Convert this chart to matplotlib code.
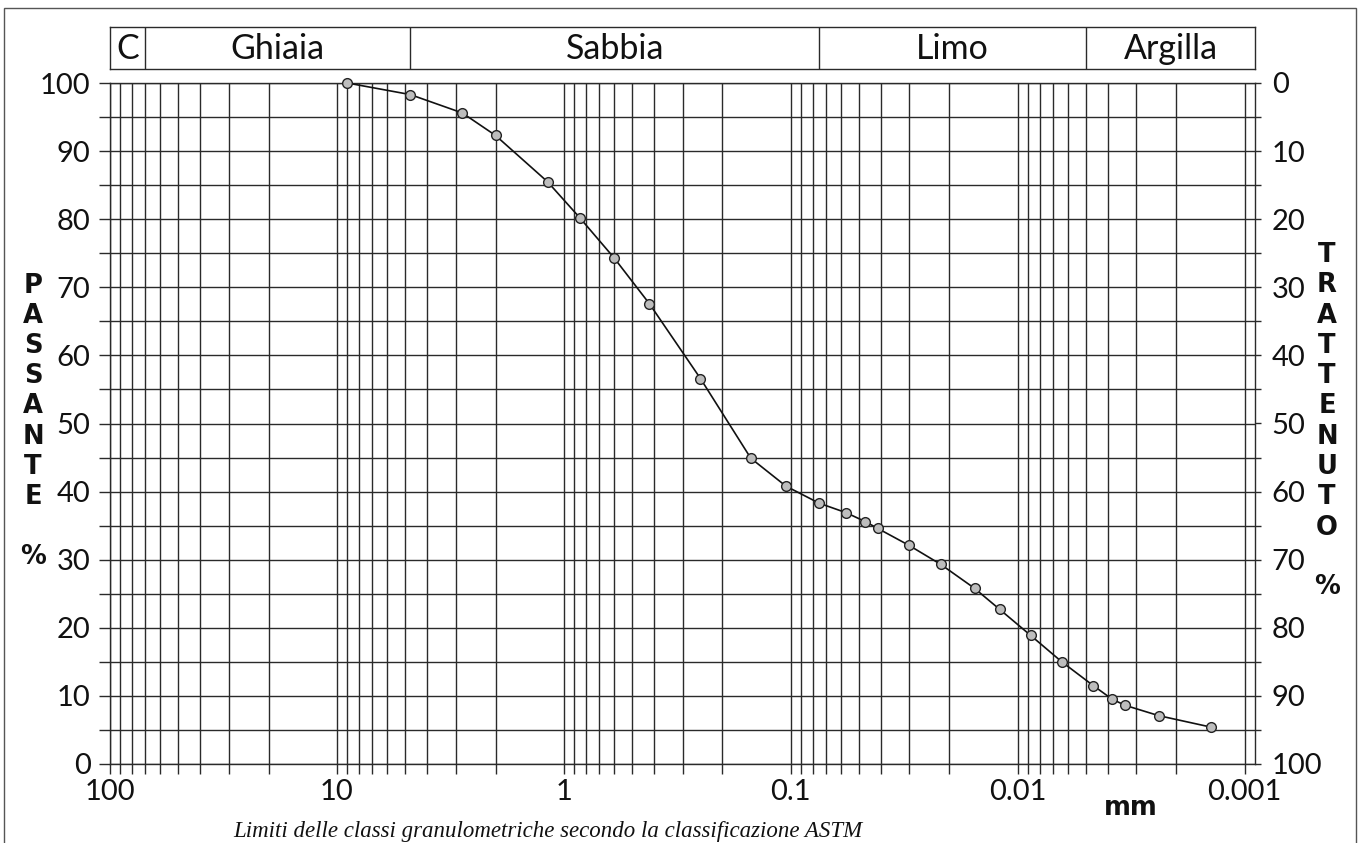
import numpy as np
import matplotlib
matplotlib.use('Agg')
import matplotlib.pyplot as plt
from matplotlib.patches import Rectangle

# ---- data ----
diam_mm = [9.0, 4.75, 2.8, 2.0, 1.18, 0.85, 0.6, 0.42, 0.25, 0.15, 0.105, 0.075,
           0.057, 0.047, 0.0414, 0.0301, 0.0218, 0.0155, 0.0120, 0.00878, 0.00639,
           0.00464, 0.00383, 0.00335, 0.00239, 0.00140]
passing = [100, 98.3, 95.6, 92.3, 85.5, 80.2, 74.3, 67.6, 56.6, 44.9, 40.8, 38.3,
           36.9, 35.6, 34.6, 32.1, 29.3, 25.8, 22.7, 18.9, 15.0,
           11.5, 9.5, 8.6, 7.1, 5.4]
class_names = ['C', 'Ghiaia', 'Sabbia', 'Limo', 'Argilla']
class_limits = [100, 70, 4.75, 0.075, 0.005, 0.0009]
x_tick_values = [100, 10, 1, 0.1, 0.01, 0.001]
x_tick_labels = ['100', '10', '1', '0.1', '0.01', '0.001']
y_left_ticks = list(range(0, 101, 10))
y_right_labels = [str(100 - v) for v in y_left_ticks]
left_title = 'PASSANTE'
right_title = 'TRATTENUTO'
unit_label = 'mm'
caption = 'Limiti delle classi granulometriche secondo la classificazione ASTM'

W, H = 1360, 843
plt.rcParams['font.family'] = ['Lato', 'DejaVu Sans']
LW = 1.0
GC = '#2a2a2a'
TICK_FS = 21
BOLD = dict(family=['DejaVu Sans'], fontweight='bold', fontsize=18.5, color='#111111')

fig = plt.figure(figsize=(W / 100, H / 100), dpi=100)

def fx(px):
    return px / W

def fy(py):
    return (H - py) / H

# outer frame
fig.patches.append(Rectangle((fx(4), -0.02), fx(1356) - fx(4), fy(8) + 0.02,
                             transform=fig.transFigure, fill=False,
                             edgecolor='#555555', lw=1.0))

# main axes
ax = fig.add_axes([fx(110), fy(764), fx(1255) - fx(110), fy(83) - fy(764)])
ax.set_xscale('log')
ax.set_xlim(class_limits[0], class_limits[-1])
ax.set_ylim(0, 100)

minor_x = []
for k in range(-3, 2):
    for m in range(2, 10):
        v = m * 10.0 ** k
        if class_limits[-1] < v < class_limits[0]:
            minor_x.append(v)
ax.set_xticks(x_tick_values)
ax.set_xticklabels(x_tick_labels)
ax.set_xticks(minor_x, minor=True)
ax.set_xticklabels([], minor=True)
ax.set_yticks(y_left_ticks)
ax.set_yticklabels([str(v) for v in y_left_ticks])
ax.set_yticks(list(range(5, 100, 10)), minor=True)
ax.grid(which='both', axis='both', color=GC, lw=LW)
ax.set_axisbelow(True)
ax.tick_params(axis='x', which='both', direction='out', length=7, width=LW,
               color=GC, labelsize=TICK_FS, pad=4, labelcolor='#111111')
ax.tick_params(axis='y', which='both', direction='out', length=8, width=LW,
               color=GC, labelsize=TICK_FS, pad=6, labelcolor='#111111')
for s in ax.spines.values():
    s.set_color(GC)
    s.set_linewidth(LW)

ax.plot(diam_mm, passing, color='#111111', lw=1.2, marker='o', markersize=7,
        markerfacecolor='#bdbdbd', markeredgecolor='#222222', markeredgewidth=1.0,
        zorder=5, clip_on=False)

ax2 = ax.twinx()
ax2.set_ylim(0, 100)
ax2.set_yticks(y_left_ticks)
ax2.set_yticklabels(y_right_labels)
ax2.set_yticks(list(range(5, 100, 10)), minor=True)
ax2.tick_params(axis='y', which='both', direction='out', length=4, width=LW,
                color=GC, labelsize=TICK_FS, pad=8, labelcolor='#111111')
for s in ax2.spines.values():
    s.set_visible(False)

# header band
hax = fig.add_axes([fx(110), fy(69), fx(1255) - fx(110), fy(27) - fy(69)])
hax.set_xscale('log')
hax.set_xlim(class_limits[0], class_limits[-1])
hax.set_ylim(0, 1)
hax.set_xticks([])
hax.set_yticks([])
hax.minorticks_off()
for s in hax.spines.values():
    s.set_color(GC)
    s.set_linewidth(LW)
for b in class_limits[1:-1]:
    hax.axvline(b, color=GC, lw=LW)
for i, name in enumerate(class_names):
    xc = np.sqrt(class_limits[i] * class_limits[i + 1])
    hax.text(xc, 0.47, name, ha='center', va='center', fontsize=24.5, color='#111111')

# vertical axis titles
for i, ch in enumerate(left_title):
    fig.text(fx(33), fy(286 + 30.1 * i), ch, ha='center', va='center', **BOLD)
fig.text(fx(33), fy(557), '%', ha='center', va='center', **BOLD)
for i, ch in enumerate(right_title):
    fig.text(fx(1327), fy(255 + 30.3 * i), ch, ha='center', va='center', **BOLD)
fig.text(fx(1327), fy(587), '%', ha='center', va='center', **BOLD)

fig.text(fx(1131), fy(808), unit_label, ha='center', va='center', **BOLD)
fig.text(fx(548), fy(832), caption, ha='center', va='center', fontsize=16.5,
         style='italic', family='Liberation Serif', color='#111111')

fig.savefig('out.png', dpi=100)
